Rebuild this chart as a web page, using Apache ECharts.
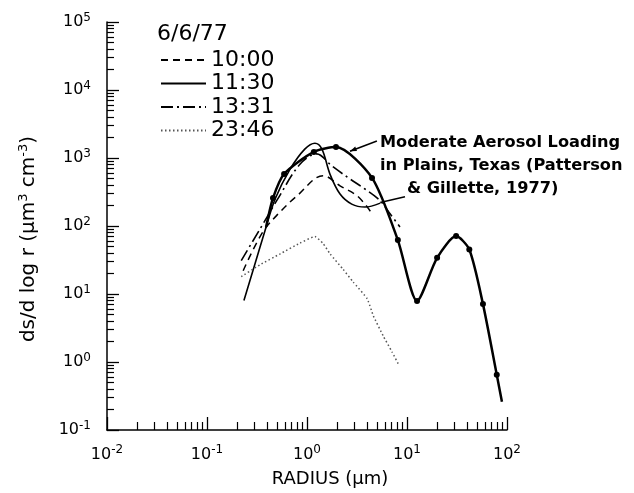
<!DOCTYPE html>
<html>
<head>
<meta charset="utf-8">
<script src="https://cdn.jsdelivr.net/npm/echarts@6/dist/echarts.min.js"></script>
<style>html,body{margin:0;padding:0;background:#fff}#c{width:634px;height:493px}</style>
</head>
<body>
<div id="c"></div>
<script>
// ---- data (radius in µm, ds/dlog r in µm^3 cm^-3) ----
const seriesNames = ['10:00', '11:30', '13:31', '23:46'];
const r_1000 = [0.23, 0.36, 0.54, 0.79, 1.45, 2.14, 3.2, 4.3];
const v_1000 = [22, 81, 162, 275, 550, 390, 275, 165];
const r_1130 = [0.234, 0.30, 0.38, 0.48, 0.68, 0.95, 1.2, 1.41, 1.7, 2.14, 2.8, 3.8, 5.4];
const v_1130 = [8, 27, 85, 250, 690, 1350, 1650, 1350, 575, 295, 210, 190, 217];
const r_1331 = [0.22, 0.34, 0.51, 0.85, 1.25, 1.78, 2.7, 3.8, 5.4, 6.8, 8.5];
const v_1331 = [31, 91, 250, 810, 1150, 760, 490, 350, 235, 150, 97];
const r_2346 = [0.22, 0.34, 0.54, 0.85, 1.2, 1.45, 1.7, 2.3, 2.9, 4.0, 4.6, 5.8, 7.1, 8.3];
const v_2346 = [18, 27, 39, 56, 70, 55, 39, 23, 15, 8.5, 4.8, 2.4, 1.4, 0.9];
const r_pg = [0.39, 0.457, 0.59, 1.17, 1.95, 4.47, 8.1, 12.6, 20, 31, 42, 57.5, 79, 89];
const v_pg = [97, 257, 582, 1230, 1450, 510, 62, 7.9, 34, 71, 45, 7.1, 0.65, 0.26];

const xMajor = [0.01, 0.1, 1, 10, 100];
const yMajor = [0.1, 1, 10, 100, 1000, 10000, 100000];
const title = '6/6/77';
const noteLines = ['Moderate Aerosol Loading', 'in Plains, Texas (Patterson', '& Gillette, 1977)'];
// annotation pointer anchors in data coords [from, to]
const pointer1 = [[5.0, 1780], [2.69, 1260]];
const pointer2 = [[9.55, 270], [5.4, 222]];

function minors(majors) {
  const out = [];
  for (let i = 0; i < majors.length - 1; i++) {
    for (let k = 2; k <= 9; k++) out.push(+(majors[i] * k).toPrecision(6));
  }
  return out;
}
function zip(a, b) { return a.map((x, i) => [x, b[i]]); }
function pow10Label(v) {
  const e = Math.round(Math.log10(v));
  return '{b|10}{s|' + e + '}';
}
const FONT = 'DejaVu Sans';
const labelRich = {
  b: { fontSize: 16, fontFamily: FONT, color: '#000' },
  s: { fontSize: 12, fontFamily: FONT, color: '#000', padding: [0, 0, 9, 0] }
};

const chart = echarts.init(document.getElementById('c'));
const commonX = { type: 'log', logBase: 10, min: 0.01, max: 100, splitLine: { show: false } };
const commonY = { type: 'log', logBase: 10, min: 0.1, max: 100000, splitLine: { show: false } };

chart.setOption({
  animation: false,
  backgroundColor: '#fff',
  grid: { left: 107, right: 127, top: 22, bottom: 62, containLabel: false },
  title: {
    text: title, left: 152, top: 18,
    textStyle: { fontFamily: FONT, fontSize: 22, fontWeight: 'normal', color: '#000' }
  },
  legend: {
    data: seriesNames, orient: 'vertical', left: 155, top: 44,
    itemWidth: 45, itemHeight: 20, itemGap: 1.5,
    itemStyle: { opacity: 0 },
    textStyle: { fontFamily: FONT, fontSize: 22, color: '#000' }
  },
  xAxis: [
    Object.assign({}, commonX, {
      name: 'RADIUS (µm)', nameLocation: 'middle', nameGap: 40,
      nameTextStyle: { fontFamily: FONT, fontSize: 18, color: '#000', padding: [0, 0, 0, 46] },
      axisLine: { lineStyle: { color: '#000', width: 1.5 } },
      axisTick: { inside: true, length: 13, lineStyle: { color: '#000', width: 1.3 }, customValues: xMajor },
      axisLabel: { margin: 14, customValues: xMajor, formatter: pow10Label, rich: labelRich }
    }),
    Object.assign({}, commonX, {
      position: 'bottom', axisLine: { show: false },
      axisTick: { inside: true, length: 8, lineStyle: { color: '#000', width: 1.2 }, customValues: minors(xMajor) },
      axisLabel: { show: false }
    })
  ],
  yAxis: [
    Object.assign({}, commonY, {
      name: '{t|ds/d log r (µm}{s|3}{t| cm}{s|-3}{t|)}', nameLocation: 'middle', nameGap: 66, nameRotate: 90,
      nameTextStyle: { padding: [0, 26, 0, 0], rich: { t: { fontFamily: FONT, fontSize: 20, color: '#000' }, s: { fontFamily: FONT, fontSize: 13, color: '#000', padding: [0, 0, 11, 0] } } },
      axisLine: { lineStyle: { color: '#000', width: 1.5 } },
      axisTick: { inside: true, length: 12, lineStyle: { color: '#000', width: 1.3 }, customValues: yMajor },
      axisLabel: { margin: 16, customValues: yMajor, formatter: pow10Label, rich: labelRich }
    }),
    Object.assign({}, commonY, {
      position: 'left', axisLine: { show: false },
      axisTick: { inside: true, length: 7, lineStyle: { color: '#000', width: 1.2 }, customValues: minors(yMajor) },
      axisLabel: { show: false }
    })
  ],
  series: [
    { name: '10:00', type: 'line', data: zip(r_1000, v_1000), smooth: 0.35, symbol: 'none',
      lineStyle: { color: '#000', width: 1.5, type: [7, 5] }, itemStyle: { color: '#000' } },
    { name: '11:30', type: 'line', data: zip(r_1130, v_1130), smooth: 0.35, symbol: 'none',
      lineStyle: { color: '#000', width: 1.6, type: 'solid' }, itemStyle: { color: '#000' } },
    { name: '13:31', type: 'line', data: zip(r_1331, v_1331), smooth: 0.35, symbol: 'none',
      lineStyle: { color: '#000', width: 1.6, type: [12, 4, 2, 4] }, itemStyle: { color: '#000' } },
    { name: '23:46', type: 'line', data: zip(r_2346, v_2346), smooth: 0.15, symbol: 'none',
      lineStyle: { color: '#555', width: 1.5, type: [1.5, 2.5] }, itemStyle: { color: '#555' } },
    { name: 'P&G', type: 'line', data: zip(r_pg, v_pg), smooth: 0.25, symbol: 'circle',
      symbolSize: (val, p) => (p.dataIndex === 0 || p.dataIndex === r_pg.length - 1) ? 0 : 6,
      lineStyle: { color: '#000', width: 2.5 }, itemStyle: { color: '#000' } }
  ]
});

function px(pt) { return chart.convertToPixel({ seriesIndex: 4 }, pt); }
const a1 = px(pointer1[0]), b1 = px(pointer1[1]);
const a2 = px(pointer2[0]), b2 = px(pointer2[1]);
const ang = Math.atan2(b1[1] - a1[1], b1[0] - a1[0]);
const ah = 7;
const noteFont = 'bold 16.2px "DejaVu Sans"';
chart.setOption({
  graphic: [
    { type: 'line', shape: { x1: a1[0], y1: a1[1], x2: b1[0], y2: b1[1] }, style: { stroke: '#000', lineWidth: 1.5 } },
    { type: 'polygon', shape: { points: [
        [b1[0], b1[1]],
        [b1[0] - ah * Math.cos(ang - 0.35), b1[1] - ah * Math.sin(ang - 0.35)],
        [b1[0] - ah * Math.cos(ang + 0.35), b1[1] - ah * Math.sin(ang + 0.35)]
      ] }, style: { fill: '#000' } },
    { type: 'line', shape: { x1: a2[0], y1: a2[1], x2: b2[0], y2: b2[1] }, style: { stroke: '#000', lineWidth: 1.5 } },
    { type: 'text', left: 380, top: 135, style: { text: noteLines[0], font: noteFont, fill: '#000' } },
    { type: 'text', left: 380, top: 158, style: { text: noteLines[1], font: noteFont, fill: '#000' } },
    { type: 'text', left: 407, top: 181, style: { text: noteLines[2], font: noteFont, fill: '#000' } }
  ]
});
</script>
</body>
</html>
